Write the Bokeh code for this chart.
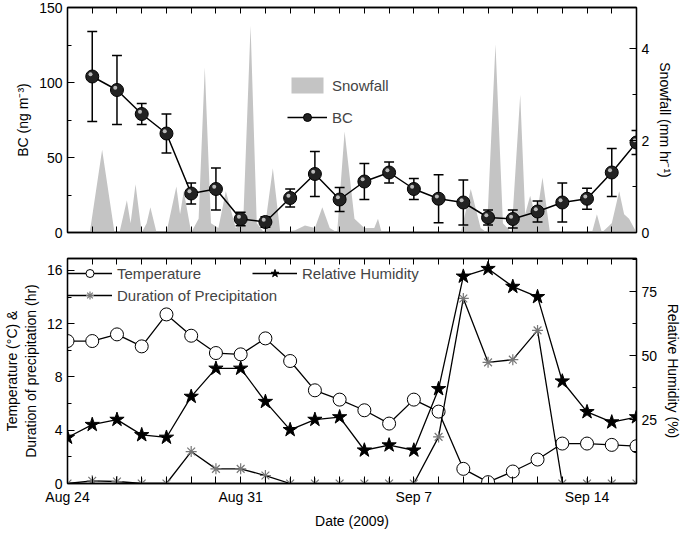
from bokeh.plotting import figure
from bokeh.layouts import column
from bokeh.models import (Range1d, LinearAxis, FixedTicker, Legend, LegendItem, Label, ColumnDataSource, Whisker)
from bokeh.embed import file_html
from bokeh.resources import INLINE

FONT = "Liberation Sans"
bc_day = list(range(1, 24))
bc = [104, 95, 79, 66, 26, 29, 9, 7, 23, 39, 22, 34, 40, 29, 22.5, 20, 10, 9, 14, 20, 22.5, 40, 60]
bc_err = [30, 23, 7, 13, 7, 14, 4.5, 3.5, 6, 15, 8, 12, 7, 7, 16, 15, 5, 6, 7, 13, 7, 16, 8]
snow_day = [0.9, 1.4, 1.9, 2.1, 2.4, 2.55, 2.75, 3.0, 3.2, 3.35, 3.6, 4.0, 4.4, 4.55, 4.7, 5.0, 5.3, 5.55, 5.8, 6.1, 6.4, 6.8, 7.1, 7.4, 7.65,
            7.95, 8.3, 8.6, 9.2, 9.6, 10.0, 10.3, 10.6, 10.9, 11.2, 11.6, 12.0, 12.4, 12.55, 12.7, 15.9, 16.3, 16.7, 16.95, 17.3, 17.6, 17.95,
            18.3, 18.5, 18.7, 18.95, 19.2, 19.5, 21.2, 21.4, 21.6, 22.0, 22.3, 22.5, 22.7, 23.0]
snow = [0, 1.8, 0, 0, 0.7, 0.2, 1.05, 0, 0.2, 0.55, 0, 0, 1.0, 0.4, 0.9, 0, 0.3, 3.6, 0.2, 0.1, 0.9, 0.1, 0.2, 4.5, 0.2,
        0, 1.4, 0, 0.05, 0.15, 0.1, 0.55, 0.1, 0, 2.2, 0.3, 0.1, 0.1, 0.3, 0, 0, 0.95, 0.1, 0, 4.1, 0.2, 0,
        3.0, 0.4, 0.8, 0.3, 1.2, 0, 0, 0.4, 0, 0.2, 0.9, 0.4, 0.3, 0]

day = list(range(0, 24))
temp = [10.7, 10.7, 11.2, 10.3, 12.7, 11.1, 9.8, 9.7, 10.9, 9.2, 7.0, 6.3, 5.5, 4.5, 6.3, 5.4, 1.1, 0.1, 0.9, 1.8, 3.0, 3.0, 2.9, 2.8]
rh = [18, 23, 25, 19, 18, 34, 45, 45, 32, 21, 25, 26, 13, 15, 13, 37, 81, 84, 77, 73, 40, 28, 24, 26]
precip = [0, 0.2, 0.15, 0, 0, 2.4, 1.1, 1.1, 0.6, 0, 0, 0, 0, 0, 0, 3.5, 13.9, 9.1, 9.3, 11.5, 0, 0, 0, 0]
date_labels = {0: "Aug 24", 7: "Aug 31", 14: "Sep 7", 21: "Sep 14"}

def style_axis(ax, fs="14px"):
    ax.major_tick_in = 7
    ax.major_tick_out = 0
    ax.minor_tick_in = 4
    ax.minor_tick_out = 0
    ax.major_label_text_font = FONT
    ax.major_label_text_font_size = fs
    ax.major_label_text_color = "black"
    ax.axis_label_text_font = FONT
    ax.axis_label_text_font_size = "14px"
    ax.axis_label_text_font_style = "normal"
    ax.axis_label_text_color = "black"
    ax.axis_line_width = 1.3

def tick_only_axis(**kw):
    ax = LinearAxis(ticker=FixedTicker(ticks=day), **kw)
    ax.major_label_overrides = {d: "" for d in day}
    ax.major_tick_in = 6
    ax.major_tick_out = 0
    ax.minor_tick_in = 0
    ax.minor_tick_out = 0
    ax.axis_line_width = 1.3
    return ax

def base(h, bt, bb):
    p = figure(frame_width=569, frame_height=h, output_backend="svg", toolbar_location=None,
               x_range=Range1d(0, 23), min_border_left=59, min_border_right=47,
               min_border_top=bt, min_border_bottom=bb)
    p.grid.visible = False
    p.outline_line_color = "black"
    p.outline_line_width = 1.3
    return p

# top panel
p1 = base(225, 7, 9)
p1.y_range = Range1d(0, 150)
p1.extra_y_ranges = {"snow": Range1d(0, 4.9)}
a = p1.varea(x=snow_day, y1=0, y2=snow, y_range_name="snow", fill_color="#c4c4c4")
hi = [v + e for v, e in zip(bc, bc_err)]
lo = [v - e for v, e in zip(bc, bc_err)]
p1.segment(x0=bc_day, x1=bc_day, y0=lo, y1=hi, line_width=1.5, color="black")
p1.segment(x0=[d - 0.2 for d in bc_day], x1=[d + 0.2 for d in bc_day], y0=hi, y1=hi, line_width=1.5, color="black")
p1.segment(x0=[d - 0.2 for d in bc_day], x1=[d + 0.2 for d in bc_day], y0=lo, y1=lo, line_width=1.5, color="black")
l = p1.line(bc_day, bc, color="black", line_width=1.5)
c = p1.scatter(bc_day, bc, size=13, fill_color="#222222", line_color="black")
p1.scatter([d - 0.07 for d in bc_day], [v + 1.5 for v in bc], size=4, fill_color="#bbbbbb", line_color=None)
p1.xaxis.visible = False
p1.add_layout(tick_only_axis(), "above")
p1.add_layout(tick_only_axis(), "below")
p1.add_layout(LinearAxis(y_range_name="snow", ticker=FixedTicker(ticks=[0, 2, 4], minor_ticks=[1, 3]),
                         axis_label="Snowfall (mm hr⁻¹)"), "right")
p1.yaxis[0].ticker = FixedTicker(ticks=[0, 50, 100, 150], minor_ticks=[25, 75, 125])
p1.yaxis[0].axis_label = "BC (ng m⁻³)"
for ax in p1.left + p1.right:
    style_axis(ax)
leg1 = Legend(items=[LegendItem(label="Snowfall", renderers=[a]), LegendItem(label="BC", renderers=[l, c])],
              location=(220, 105), border_line_color=None, background_fill_alpha=0,
              label_text_font=FONT, label_text_font_size="15px", glyph_width=40, spacing=12)
p1.add_layout(leg1)
p1.add_layout(Label(x=-58, y=211, x_units="screen", y_units="screen", text="(a)", text_font=FONT,
                    text_font_size="14px", level="overlay"))

# bottom panel
p2 = base(225, 17, 46)
p2.y_range = Range1d(0, 16.9)
p2.extra_y_ranges = {"rh": Range1d(0, 88)}
lt = p2.line(day, temp, color="black", line_width=1.3)
ct = p2.scatter(day, temp, size=13, fill_color="white", line_color="black")
lp = p2.line(day[:10], precip[:10], color="black", line_width=1.3)
p2.line(day[14:21], precip[14:21], color="black", line_width=1.3)
cp = p2.scatter(day, precip, marker="asterisk", size=11, line_color="#777777", line_width=1.2)
lr = p2.line(day, rh, color="black", line_width=1.3, y_range_name="rh")
cr = p2.scatter(day, rh, marker="star", size=15, fill_color="black", line_color="black", y_range_name="rh")
p2.xaxis[0].ticker = FixedTicker(ticks=day)
p2.xaxis[0].major_label_overrides = {d: date_labels.get(d, "") for d in day}
p2.xaxis[0].axis_label = "Date (2009)"
p2.add_layout(tick_only_axis(), "above")
p2.yaxis[0].ticker = FixedTicker(ticks=[0, 4, 8, 12, 16], minor_ticks=[2, 6, 10, 14])
p2.yaxis[0].axis_label = "Temperature (°C) &\nDuration of precipitation (hr)"
p2.add_layout(LinearAxis(y_range_name="rh", ticker=FixedTicker(ticks=[25, 50, 75], minor_ticks=[12.5, 37.5, 62.5, 87.5]),
                         axis_label="Relative Humidity (%)"), "right")
for ax in p2.left + p2.right + p2.below:
    style_axis(ax)
p2.xaxis[0].minor_tick_in = 0
kw = dict(border_line_color=None, background_fill_alpha=0, label_text_font=FONT, label_text_font_size="15px",
          glyph_width=45, spacing=2, padding=0, margin=0, label_height=18)
p2.add_layout(Legend(items=[LegendItem(label="Temperature", renderers=[lt, ct]),
                            LegendItem(label="Duration of Precipitation", renderers=[lp, cp])],
                     location=(0, 178), **kw))
p2.add_layout(Legend(items=[LegendItem(label="Relative Humidity", renderers=[lr, cr])],
                     location=(185, 200), **kw))
p2.add_layout(Label(x=-58, y=214, x_units="screen", y_units="screen", text="(b)", text_font=FONT,
                    text_font_size="14px", level="overlay"))

layout = column(p1, p2, spacing=0)
open("out.html", "w").write(file_html(layout, INLINE))
